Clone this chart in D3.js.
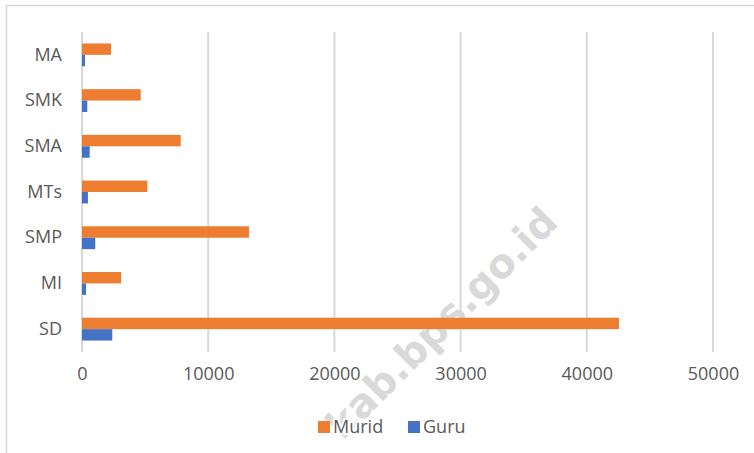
<!DOCTYPE html>
<html>
<head>
<meta charset="utf-8">
<script src="https://cdn.jsdelivr.net/npm/d3@7"></script>
<style>
  body { margin: 0; background: #fff; }
  svg text { font-family: "Open Sans", "Liberation Sans", sans-serif; }
</style>
</head>
<body>
<div id="chart"></div>
<script>
// jenjang pendidikan (urut dari bawah ke atas seperti di gambar)
const categories = ['SD', 'MI', 'SMP', 'MTs', 'SMA', 'SMK', 'MA'];
const murid = [42550, 3100, 13230, 5180, 7820, 4650, 2300];
const guru = [2400, 320, 1050, 470, 610, 420, 240];
const seriesNames = ['Murid', 'Guru'];
const seriesColors = ['#ED7D31', '#4472C4'];
const xTicks = [0, 10000, 20000, 30000, 40000, 50000];

const width = 754, height = 453;
const plot = { left: 82, right: 713, top: 32, bottom: 352 };

const svg = d3.select('#chart').append('svg')
    .attr('width', width).attr('height', height);

// watermark (di belakang semua elemen)
svg.append('text')
    .attr('transform', 'translate(560,224) rotate(-45)')
    .attr('text-anchor', 'end')
    .style('font-family', '"DejaVu Sans", sans-serif')
    .style('font-size', '40px').style('font-weight', 'bold')
    .style('fill', '#d9d9d9')
    .text('kab.bps.go.id');

// bingkai
svg.append('rect')
    .attr('x', 6.5).attr('y', 5.5).attr('width', 800).attr('height', 500)
    .attr('fill', 'none').attr('stroke', '#d9d9d9').attr('stroke-width', 1.5);

const x = d3.scaleLinear().domain([0, 50000]).range([plot.left, plot.right]);
// SD di bawah, MA di atas
const y = d3.scaleBand().domain(categories.slice().reverse()).range([plot.top, plot.bottom]);
const ySub = d3.scaleBand().domain(seriesNames)
    .range([y.bandwidth() * 0.25, y.bandwidth() * 0.75]);

// garis grid
svg.append('g').selectAll('line').data(xTicks).join('line')
    .attr('x1', d => x(d)).attr('x2', d => x(d))
    .attr('y1', plot.top).attr('y2', plot.bottom)
    .attr('stroke', '#d9d9d9').attr('stroke-width', 2);

const rows = categories.map((c, i) => ({ cat: c, values: [murid[i], guru[i]] }));

const groups = svg.append('g').selectAll('g').data(rows).join('g')
    .attr('transform', d => `translate(0,${y(d.cat)})`);

groups.selectAll('rect')
    .data(d => d.values.map((v, j) => ({ name: seriesNames[j], value: v, color: seriesColors[j] })))
    .join('rect')
    .attr('x', x(0))
    .attr('y', d => ySub(d.name))
    .attr('width', d => x(d.value) - x(0))
    .attr('height', ySub.bandwidth())
    .attr('fill', d => d.color);

// sumbu kategori
const yAxis = svg.append('g')
    .attr('transform', `translate(${plot.left - 20},0)`)
    .call(d3.axisLeft(y).tickSize(0).tickPadding(0));
yAxis.select('.domain').remove();
yAxis.selectAll('text').style('font-size', '18px').style('fill', '#595959')
    .style('font-family', '"Open Sans", sans-serif');

// sumbu nilai
const xAxis = svg.append('g')
    .attr('transform', `translate(0,${plot.bottom + 15})`)
    .call(d3.axisBottom(x).tickValues(xTicks).tickFormat(d3.format('d')).tickSize(0).tickPadding(0));
xAxis.select('.domain').remove();
xAxis.selectAll('text').attr('dy', '0.71em').style('font-size', '18px').style('fill', '#595959')
    .style('font-family', '"Open Sans", sans-serif')
    .style('paint-order', 'stroke').style('stroke', '#fff').style('stroke-width', 4);

// legenda
const legendItems = [
    { name: seriesNames[0], color: seriesColors[0], x: 318 },
    { name: seriesNames[1], color: seriesColors[1], x: 408 }
];
const legend = svg.append('g').selectAll('g').data(legendItems).join('g')
    .attr('transform', d => `translate(${d.x},421)`);
legend.append('rect').attr('width', 12).attr('height', 12).attr('fill', d => d.color);
legend.append('text').attr('x', 15).attr('y', 6).attr('dy', '0.35em')
    .style('font-size', '18px').style('fill', '#595959')
    .style('paint-order', 'stroke').style('stroke', '#fff').style('stroke-width', 4)
    .text(d => d.name);
</script>
</body>
</html>
